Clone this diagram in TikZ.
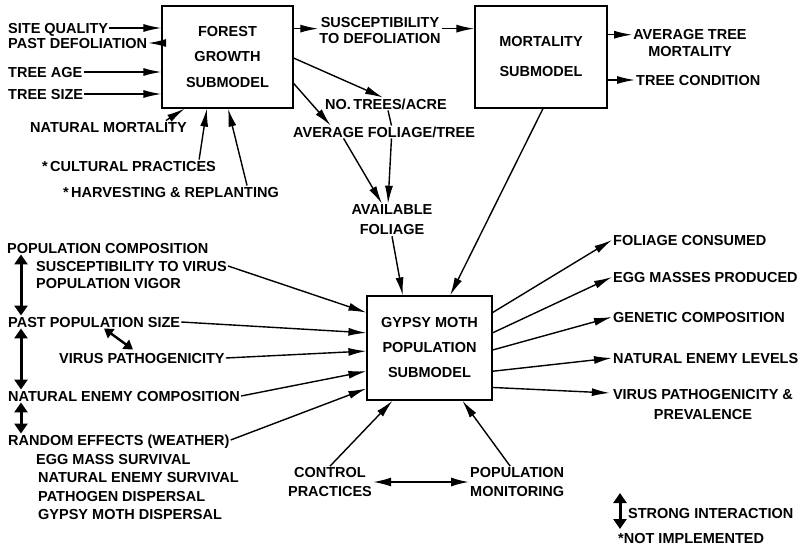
\documentclass[tikz,border=0pt]{standalone}
\usepackage{fontspec}
\setmainfont{Liberation Sans}
\usetikzlibrary{arrows.meta,calc}
\tikzset{
  lbl/.style={font=\bfseries\fontsize{14.5}{16}\selectfont, inner sep=1pt, text height=10.5pt, text depth=0pt, anchor=west},
  mlbl/.style={font=\bfseries\fontsize{14.5}{17}\selectfont, inner sep=1pt, align=center},
  boxnode/.style={draw, line width=1.2pt, inner sep=0pt, align=center},
  arr/.style={line width=1.4pt, -{Latex[length=18pt,width=8pt]}},
  plain/.style={line width=1.4pt},
  dbl/.style={line width=3pt, {Triangle[length=10pt,width=13pt]}-{Triangle[length=10pt,width=13pt]}},
}
\begin{document}
\begin{tikzpicture}[x=1pt,y=-1pt]
\useasboundingbox (0,0) rectangle (809,546);

% boxes
\node[boxnode, minimum width=131pt, minimum height=102pt, font=\bfseries\fontsize{14.5}{25.5}\selectfont] (fg) at (227.5,57) {FOREST\\GROWTH\\SUBMODEL};
\node[boxnode, minimum width=132pt, minimum height=102pt, font=\bfseries\fontsize{14.5}{30}\selectfont] (mm) at (541,57) {MORTALITY\\SUBMODEL};
\node[boxnode, minimum width=125pt, minimum height=104pt, font=\bfseries\fontsize{14.5}{25}\selectfont] (gm) at (429.5,348) {GYPSY MOTH\\POPULATION\\SUBMODEL};

% forest inputs
\node[lbl] (sq) at (7,28) {SITE QUALITY};
\node[lbl] (pd) at (7,43) {PAST DEFOLIATION};
\node[lbl] (ta) at (7,72) {TREE AGE};
\node[lbl] (ts) at (7,94) {TREE SIZE};
\node[lbl] (nm) at (29,127) {NATURAL MORTALITY};
\node[lbl] (cp) at (41,166) {*\,CULTURAL PRACTICES};
\node[lbl] (hr) at (62,192) {*\,HARVESTING \& REPLANTING};

% forest outputs
\node[mlbl, font=\bfseries\fontsize{14.5}{16}\selectfont] (sus) at (380,31) {SUSCEPTIBILITY\\TO DEFOLIATION};
\node[lbl] (ntr) at (324,104) {NO.\,TREES/ACRE};
\node[lbl] (afl) at (292,132) {AVERAGE FOLIAGE/TREE};
\node[mlbl, font=\bfseries\fontsize{14.5}{20}\selectfont] (avf) at (392,220) {AVAILABLE\\FOLIAGE};

% mortality outputs
\node[mlbl] (atm) at (690,43) {AVERAGE TREE\\MORTALITY};
\node[lbl] (tc) at (635,80) {TREE CONDITION};

% gypsy moth inputs
\node[lbl] (pc) at (6,248) {POPULATION COMPOSITION};
\node[lbl] (stv) at (35,266) {SUSCEPTIBILITY TO VIRUS};
\node[lbl] (pv) at (35,283) {POPULATION VIGOR};
\node[lbl] (pps) at (7,322) {PAST POPULATION SIZE};
\node[lbl] (vp) at (58,358) {VIRUS PATHOGENICITY};
\node[lbl] (nec) at (7,396) {NATURAL ENEMY COMPOSITION};
\node[lbl] (re) at (7,440) {RANDOM EFFECTS (WEATHER)};
\node[lbl] (ems) at (35,459) {EGG MASS SURVIVAL};
\node[lbl] (nes) at (37,477) {NATURAL ENEMY SURVIVAL};
\node[lbl] (pdi) at (37,496) {PATHOGEN DISPERSAL};
\node[lbl] (gmd) at (37,514) {GYPSY MOTH DISPERSAL};

% control / monitoring
\node[mlbl, font=\bfseries\fontsize{14.5}{19}\selectfont] (ctl) at (330,482) {CONTROL\\PRACTICES};
\node[mlbl, font=\bfseries\fontsize{14.5}{19}\selectfont, align=left, anchor=west] (pmo) at (469,482) {POPULATION\\MONITORING};

% gypsy outputs
\node[lbl] (fc) at (612,240) {FOLIAGE CONSUMED};
\node[lbl] (emp) at (612,277) {EGG MASSES PRODUCED};
\node[lbl] (gc) at (612,317) {GENETIC COMPOSITION};
\node[lbl] (nel) at (612,358) {NATURAL ENEMY LEVELS};
\node[mlbl, font=\bfseries\fontsize{14.5}{20}\selectfont] (vpp) at (703,405) {VIRUS PATHOGENICITY \&\\PREVALENCE};

% legend
\coordinate (lg1) at (620,493);
\coordinate (lg2) at (620,529);
\node[lbl] (si) at (627,513) {STRONG INTERACTION};
\node[lbl] (ni) at (617,538) {*NOT IMPLEMENTED};

% ---- connectors: forest growth
\draw[arr] (sq.east) -- (sq.east -| fg.west);
\draw[arr] (pd.east -| fg.west) -- (pd.east);
\draw[arr] (ta.east) -- (ta.east -| fg.west);
\draw[arr] (ts.east) -- (ts.east -| fg.west);
\draw[arr] ([xshift=-22pt]nm.north east) -- ($(fg.south west)!0.176!(fg.south east)$);
\draw[arr] ([xshift=-18pt]cp.north east) -- ($(fg.south west)!0.344!(fg.south east)$);
\draw[arr] ([xshift=-33pt]hr.north east) -- ($(fg.south west)!0.504!(fg.south east)$);

\coordinate (fgs) at ($(fg.north east)!0.225!(fg.south east)$);
\draw[arr] (fgs) -- (fgs -| sus.west);
\coordinate (mms) at ($(mm.north west)!0.225!(mm.south west)$);
\draw[arr] (mms -| sus.east) -- (mms);
\draw[arr] ($(fg.north east)!0.51!(fg.south east)$) -- ([xshift=-3pt]ntr.north);
\draw[arr] ($(fg.north east)!0.755!(fg.south east)$) -- ($(afl.north west)!0.21!(afl.north east)$);
\draw[plain] ([xshift=2pt]ntr.south) -- ($(afl.north west)!0.54!(afl.north east)$);
\draw[arr] ($(afl.south west)!0.54!(afl.south east)$) -- ([xshift=-4pt]avf.north);
\draw[arr] ($(afl.south west)!0.28!(afl.south east)$) -- ([xshift=-10pt]avf.north);

% mortality
\coordinate (mmo) at ($(mm.north east)!0.284!(mm.south east)$);
\draw[arr] (mmo) -- (mmo -| atm.west);
\draw[arr] (tc.west -| mm.east) -- (tc.west);
\draw[arr] ($(mm.south west)!0.515!(mm.south east)$) -- ($(gm.north west)!0.664!(gm.north east)$);
\draw[arr] (avf.south) -- ($(gm.north west)!0.288!(gm.north east)$);

% gypsy inputs
\draw[arr] (stv.east) -- ($(gm.north west)!0.163!(gm.south west)$);
\draw[arr] (pps.east) -- ($(gm.north west)!0.356!(gm.south west)$);
\draw[arr] (vp.east) -- ($(gm.north west)!0.529!(gm.south west)$);
\draw[arr] (nec.east) -- ($(gm.north west)!0.721!(gm.south west)$);
\draw[arr] (re.east) -- ($(gm.north west)!0.885!(gm.south west)$);

% gypsy outputs
\draw[arr] ($(gm.north east)!0.163!(gm.south east)$) -- (fc.west);
\draw[arr] ($(gm.north east)!0.356!(gm.south east)$) -- (emp.west);
\draw[arr] ($(gm.north east)!0.519!(gm.south east)$) -- (gc.west);
\draw[arr] ($(gm.north east)!0.721!(gm.south east)$) -- (nel.west);
\draw[arr] ($(gm.north east)!0.875!(gm.south east)$) -- ($(vpp.west)+(-2,-12)$);

% control / monitoring
\draw[arr] (ctl.north) -- ($(gm.south west)!0.208!(gm.south east)$);
\draw[arr] ([xshift=-7pt]pmo.north) -- ($(gm.south west)!0.76!(gm.south east)$);
\draw[line width=1.8pt, {Latex[length=18pt,width=9pt]}-{Latex[length=18pt,width=9pt]}] (ctl.east) -- (pmo.west);

% strong interactions
\draw[dbl] ([xshift=15pt]pc.south west) -- ([xshift=14pt]pps.north west);
\draw[dbl] ([xshift=14pt]pps.south west) -- ([xshift=14pt]nec.north west);
\draw[dbl] ([xshift=14pt]nec.south west) -- ([xshift=14pt]re.north west);
\draw[line width=2.4pt, {Triangle[length=9pt,width=11pt]}-{Triangle[length=9pt,width=11pt]}] ($(pps.south west)+(97,0)$) -- ($(vp.north west)+(75,-2)$);
\draw[dbl] (lg1) -- (lg2);
\end{tikzpicture}
\end{document}
